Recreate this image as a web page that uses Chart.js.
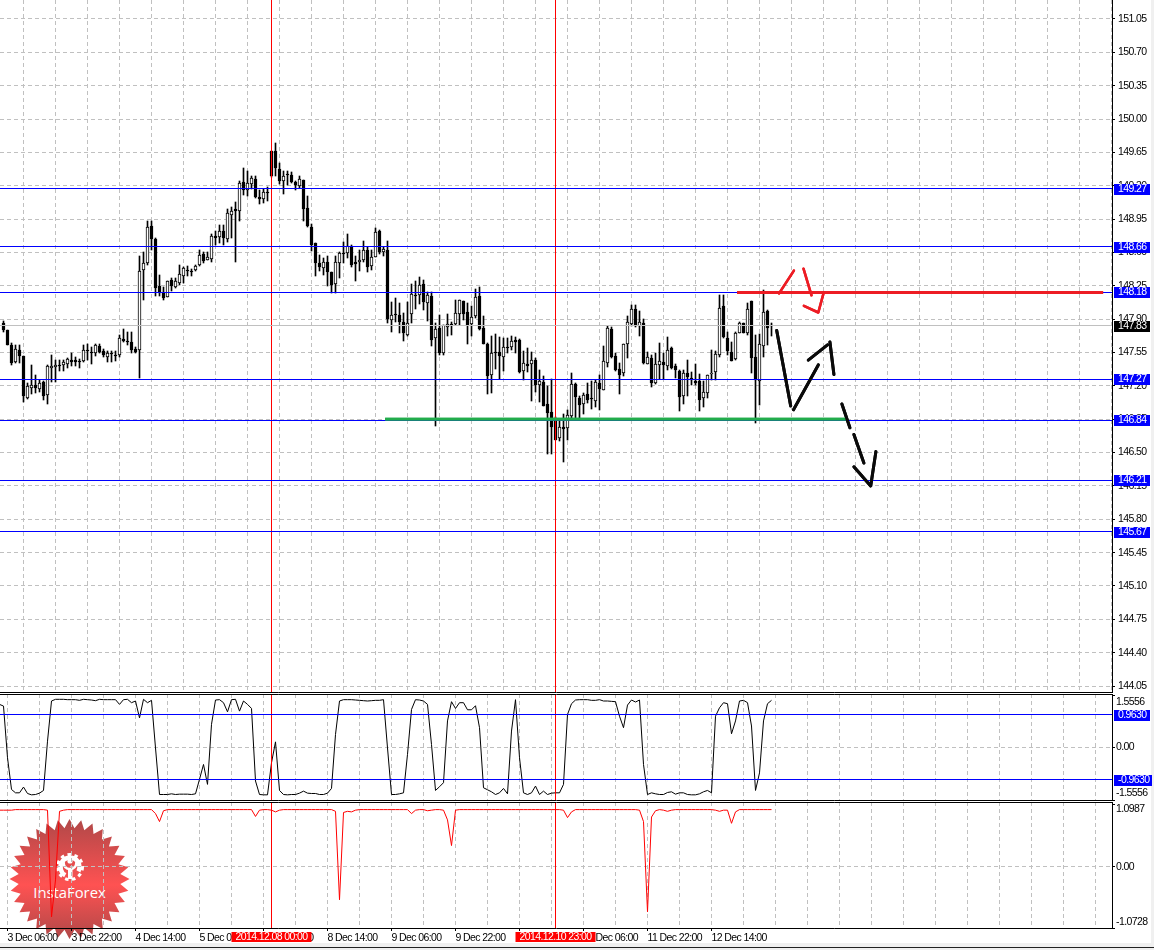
<!DOCTYPE html>
<html><head><meta charset="utf-8">
<style>
html,body{margin:0;padding:0;background:#fff;width:1154px;height:950px;overflow:hidden}
canvas{position:absolute;left:0}
#logo{position:absolute;left:0;top:810px}
.band{position:absolute;background:#f0f0f0}
</style>
<script src="https://cdn.jsdelivr.net/npm/chart.js@4"></script>
</head><body>
<div class="band" style="left:1151px;top:0;width:3px;height:950px"></div>
<div class="band" style="left:0;top:943px;width:1154px;height:7px"></div>
<div style="position:absolute;left:0;top:947px;width:1154px;height:1px;background:#222"></div>
<svg id="logo" width="140" height="140" viewBox="0 0 140 140">
<defs><linearGradient id="lg" x1="0" y1="0" x2="0" y2="1">
<stop offset="0" stop-color="#b04848"/><stop offset=".55" stop-color="#ff5252"/><stop offset="1" stop-color="#b04848"/></linearGradient></defs>
<polygon id="star" fill="url(#lg)"/>
<circle cx="70" cy="57" r="9.5" fill="none" stroke="#fff" stroke-width="4.5" stroke-dasharray="44 16" transform="rotate(120 70 57)"/>
<circle cx="70" cy="57" r="12.5" fill="none" stroke="#fff" stroke-width="3" stroke-dasharray="3.5 3.5"/>
<rect x="68" y="58" width="4.5" height="11" fill="#fff"/>
<path d="M63.5 52 Q64 59 70 59 Q76 59 76.5 52" fill="none" stroke="#fff" stroke-width="2.5"/>
<circle cx="70" cy="51" r="2.6" fill="#fff"/>
<text x="69.5" y="88" text-anchor="middle" fill="#fff" font-family="Open Sans" font-size="14.8" style="font-weight:400">InstaForex</text>
</svg>
<canvas id="c1" width="1154" height="693" style="top:0"></canvas>
<canvas id="c2" width="1154" height="108" style="top:694px"></canvas>
<canvas id="c3" width="1154" height="148" style="top:802px"></canvas>
<script>
const openP=[147.86,147.79,147.63,147.45,147.58,147.51,147.07,147.18,147.21,147.17,
147.24,147.10,147.39,147.40,147.41,147.42,147.43,147.47,147.47,147.46,
147.46,147.57,147.56,147.55,147.62,147.57,147.50,147.53,147.52,147.52,
147.69,147.67,147.66,147.59,147.58,148.42,148.49,148.88,148.74,148.25,
148.18,148.13,148.31,148.24,148.28,148.35,148.42,148.41,148.42,148.47,
148.58,148.52,148.53,148.77,148.76,148.82,148.74,148.99,149.06,149.04,
149.34,149.26,149.32,149.37,149.18,149.16,149.23,149.66,149.67,149.48,
149.35,149.42,149.41,149.34,149.30,149.36,149.07,148.87,148.70,148.49,
148.44,148.50,148.39,148.27,148.49,148.58,148.59,148.66,148.50,148.50,
148.52,148.63,148.46,148.55,148.82,148.60,148.63,147.89,147.95,147.94,
147.87,147.73,147.95,148.15,148.15,148.27,148.07,148.14,147.70,147.81,
147.55,147.82,147.84,147.85,147.95,148.09,147.97,147.85,147.93,148.14,
147.81,147.64,147.31,147.55,147.56,147.50,147.60,147.61,147.68,147.68,
147.36,147.43,147.43,147.47,147.21,147.24,147.01,146.93,146.84,146.65,
146.77,146.76,146.88,147.22,147.07,147.01,147.11,147.07,147.04,147.23,
147.16,147.44,147.80,147.51,147.38,147.33,147.64,147.85,148.01,147.83,
147.86,147.43,147.49,147.23,147.42,147.45,147.41,147.60,147.41,147.36,
147.09,147.33,147.28,147.25,147.25,147.07,147.12,147.32,147.35,147.52,
148.04,147.70,147.56,147.48,147.76,147.86,147.75,148.09,147.50,147.25,
147.62,147.99,147.83];
const highP=[147.88,147.79,147.65,147.63,147.63,147.51,147.23,147.42,147.31,147.26,
147.25,147.42,147.52,147.47,147.47,147.47,147.49,147.55,147.50,147.48,
147.63,147.64,147.61,147.64,147.64,147.59,147.57,147.57,147.57,147.73,
147.80,147.77,147.77,147.61,148.56,148.60,148.93,148.93,148.75,148.36,
148.24,148.30,148.33,148.33,148.47,148.45,148.46,148.43,148.47,148.63,
148.60,148.61,148.79,148.82,148.89,148.89,149.06,149.08,149.13,149.35,
149.49,149.45,149.40,149.40,149.26,149.27,149.29,149.66,149.75,149.54,
149.45,149.45,149.44,149.35,149.40,149.36,149.19,148.90,148.70,148.57,
148.54,148.56,148.40,148.56,148.61,148.71,148.79,148.68,148.56,148.63,
148.72,148.66,148.63,148.86,148.84,148.66,148.72,148.08,148.12,148.07,
147.96,148.08,148.27,148.30,148.34,148.31,148.19,148.19,147.86,147.94,
147.84,147.95,147.87,148.10,148.10,148.09,148.07,148.04,148.22,148.24,
147.93,147.65,147.72,147.74,147.71,147.70,147.70,147.72,147.71,147.69,
147.57,147.60,147.56,147.49,147.37,147.30,147.20,147.27,146.87,146.84,
146.90,146.95,147.33,147.23,147.09,147.13,147.23,147.25,147.26,147.31,
147.62,147.83,147.82,147.55,147.44,147.64,147.93,148.05,148.05,147.99,
147.90,147.56,147.52,147.54,147.65,147.55,147.71,147.61,147.43,147.37,
147.37,147.47,147.35,147.43,147.32,147.25,147.31,147.58,147.57,148.15,
148.15,147.77,147.66,147.77,147.87,147.86,148.07,148.09,147.73,147.74,
148.21,148.00,147.86];
const lowP=[147.77,147.63,147.42,147.44,147.44,147.03,147.06,147.11,147.12,147.14,
147.05,147.01,147.24,147.24,147.36,147.36,147.39,147.41,147.41,147.39,
147.45,147.47,147.43,147.51,147.55,147.50,147.45,147.45,147.46,147.50,
147.66,147.63,147.55,147.55,147.28,148.10,148.47,148.63,148.14,148.14,
148.10,148.13,148.20,148.23,148.26,148.28,148.35,148.35,148.41,148.46,
148.49,148.52,148.50,148.68,148.70,148.68,148.71,148.75,148.50,148.93,
149.20,149.19,149.27,149.17,149.11,149.12,149.14,149.39,149.40,149.32,
149.21,149.31,149.33,149.26,149.28,148.93,148.87,148.62,148.35,148.41,
148.36,148.25,148.17,148.17,148.33,148.49,148.54,148.45,148.30,148.41,
148.50,148.40,148.42,148.55,148.58,148.56,147.86,147.77,147.87,147.75,
147.67,147.72,147.86,148.01,148.06,148.00,147.88,147.62,146.78,147.52,
147.52,147.72,147.73,147.84,147.84,147.89,147.64,147.72,147.91,147.79,
147.64,147.11,147.13,147.38,147.27,147.36,147.54,147.58,147.54,147.33,
147.26,147.35,147.04,147.14,147.03,146.99,146.48,146.49,146.63,146.62,
146.40,146.63,146.84,146.84,146.85,146.90,147.02,146.96,146.98,146.95,
147.16,147.40,147.49,147.36,147.11,147.30,147.49,147.83,147.82,147.72,
147.43,147.43,147.19,147.22,147.27,147.27,147.37,147.38,147.28,146.94,
147.01,147.09,147.21,147.21,146.94,146.98,147.07,147.26,147.26,147.50,
147.70,147.52,147.46,147.47,147.75,147.75,147.73,147.34,146.81,147.00,
147.50,147.63,147.72];
const closeP=[147.79,147.63,147.44,147.59,147.51,147.09,147.20,147.21,147.18,147.23,
147.09,147.41,147.41,147.42,147.41,147.45,147.48,147.45,147.45,147.45,
147.58,147.57,147.54,147.63,147.56,147.52,147.54,147.53,147.51,147.70,
147.67,147.66,147.58,147.56,148.41,148.49,148.87,148.74,148.23,148.17,
148.12,148.30,148.25,148.30,148.37,148.44,148.41,148.40,148.46,148.57,
148.51,148.55,148.77,148.75,148.83,148.75,149.01,149.04,149.04,149.33,
149.26,149.33,149.38,149.18,149.16,149.23,149.22,149.40,149.49,149.35,
149.40,149.41,149.34,149.31,149.37,149.06,148.88,148.68,148.49,148.45,
148.50,148.40,148.26,148.50,148.59,148.58,148.67,148.47,148.48,148.52,
148.63,148.45,148.55,148.81,148.60,148.64,147.90,147.94,147.94,147.87,
147.75,147.86,148.16,148.14,148.26,148.08,148.15,147.68,147.80,147.55,
147.84,147.85,147.84,147.96,148.10,147.95,147.84,147.92,148.13,147.80,
147.64,147.30,147.55,147.54,147.51,147.61,147.60,147.67,147.66,147.35,
147.44,147.41,147.47,147.21,147.25,146.99,146.92,146.77,146.63,146.77,
146.75,146.89,147.22,147.08,147.00,147.10,147.05,147.06,147.24,147.17,
147.46,147.81,147.50,147.37,147.31,147.64,147.87,148.01,147.83,147.87,
147.44,147.50,147.23,147.43,147.46,147.42,147.58,147.39,147.37,147.08,
147.34,147.29,147.26,147.23,147.05,147.14,147.31,147.34,147.53,148.02,
147.71,147.57,147.46,147.75,147.86,147.75,148.01,147.49,147.26,147.64,
147.98,147.81,147.83];
const oscValues=[1.22,-.31,-1.25,-1.35,-1.35,-1.18,-1.37,-1.41,-1.40,-1.36,
-1.28,.18,1.37,1.42,1.42,1.42,1.41,1.41,1.41,1.39,
1.42,1.41,1.40,1.38,1.42,1.41,1.41,1.41,1.41,1.27,
1.41,1.42,1.32,1.37,.87,1.42,1.32,1.39,-.02,-1.40,
-1.40,-1.40,-1.38,-1.40,-1.39,-1.39,-1.39,-1.40,-1.38,-.95,
-.51,-1.10,.68,1.40,1.41,1.32,1.05,1.41,1.42,1.07,
1.37,1.27,1.15,-1.00,-1.40,-1.41,-1.41,-.46,.16,-1.28,
-1.40,-1.41,-1.40,-1.40,-1.36,-1.30,-1.36,-1.37,-1.37,-1.40,
-1.40,-1.36,-1.22,.38,1.37,1.41,1.41,1.41,1.40,1.39,
1.38,1.37,1.38,1.39,1.39,1.41,-.02,-1.40,-1.40,-1.38,
-1.35,-.21,1.12,1.41,1.40,1.37,1.27,.08,-1.28,-1.17,
-1.05,.78,1.35,1.15,1.32,1.32,1.11,1.11,1.23,.58,
-1.20,-1.26,-1.32,-1.40,-1.35,-1.22,-1.38,.48,1.41,-.31,
-1.35,-1.40,-1.35,-1.15,-1.40,-1.30,-1.40,-1.36,-1.35,-1.35,
-1.10,.97,1.29,1.40,1.41,1.41,1.41,1.39,1.39,1.41,
1.37,1.37,1.36,1.35,.92,.58,1.25,1.40,1.34,1.40,
-.51,-1.40,-1.35,-1.38,-1.40,-1.40,-1.34,-1.32,-1.39,-1.35,
-1.35,-1.40,-1.41,-1.41,-1.38,-1.32,-1.28,-1.35,.92,1.17,
1.32,1.29,.40,.78,1.37,1.39,1.32,.63,-1.28,-.76,
.78,1.29,1.39];
const volValues=[.99,.99,.99,1,1,1,1,1,1,1,
1,.99,-.88,-.23,.97,.99,1,1,1,1,
1,1,1,1,1,1,1,1,1,1,
1,1,1,1,1,1,1,1,.93,.79,
.98,1,1,1,1,1,1,1,1,1,
1,1,1,1,1,1,1,1,1,1,
1,1,1,.88,.99,1,1,.99,.96,.99,
1,1,1,1,1,1,1,1,1,1,
1,1,1,.97,-.58,.95,.97,.96,.99,1,
1,1,1,1,1,1,1,1,1,1,
1,1,.93,.99,1,1,.98,.99,1,1,
.99,.82,.37,.99,1,1,1,1,1,1,
1,1,1,1,1,1,1,1,1,1,
1,1,1,1,1,1,1,1,1,1,
.99,.86,.96,1,1,1,1,1,1,1,
1,1,1,1,1,1,1,1,1,.99,
.79,-.79,.87,.98,1,.99,.97,.99,1,1,
1,1,1,1,1,1,1,1,.99,.97,
.99,.99,.76,.96,1,1,1,1,1,1,
1,1,1];
const oscBefore=1.27, volBefore=.99;
const priceTicks=[151.05,150.70,150.35,150.00,149.65,149.30,148.95,148.60,148.25,147.90,147.55,147.20,146.85,146.50,146.15,145.80,145.45,145.10,144.75,144.40,144.05];
const blueLevels=[149.27,148.66,148.18,147.27,146.84,146.21,145.67];
const lastPrice=147.83;
const oscLevels=[0.963,-0.963];
const oscBounds=[1.5556,-1.5556];
const volBounds=[1.0987,-1.0728];
const gridBars=[1,9,17,25,33,41,49,57,65,73,81,89,97,105,113,121,129,137,145,153,161,169,177,185,193,201,209,217,225,233,241,249,257,265,273];
const timeTickBars=[1,17,33,49,65,81,97,113,129,145,161,177];
const timeTickLabels=["3 Dec 06:00","3 Dec 22:00","4 Dec 14:00","5 Dec 06:00","5 Dec 22:00","8 Dec 14:00","9 Dec 06:00","9 Dec 22:00","10 Dec 14:00","11 Dec 06:00","11 Dec 22:00","12 Dec 14:00"];
const cursorBars=[67,138];
const cursorLabels=["2014.12.08 00:00","2014.12.10 23:00"];
const greenLine=[[95.4,146.85],[211.1,146.85]];
const redLine=[[183.4,148.18],[274.9,148.18]];
const redStrokes=[[[193.9,148.17],[197.6,148.41]],[[200.0,148.43],[202.0,148.15]],[[200.1,148.04],[203.7,147.97],[205.0,148.17]]];
const blackStrokes=[[[193.3,147.78],[196.8,146.99]],[[197.5,146.95],[203.7,147.42]],[[201.2,147.47],[206.0,147.63]],[[206.6,147.66],[207.6,147.32]],[[209.6,147.01],[211.6,146.76]],[[212.6,146.69],[215.1,146.39]],[[212.6,146.35],[216.8,146.15],[218.1,146.51]]];

const BLUE='#0000ff',RED='#ff0000',GRID='#c0c0c0',FONT='"Liberation Sans"',SPACING='-0.6px',TEXT=10.5;
const xMin=-0.875,xMax=277.125;
const bars=openP.map((_,i)=>i);
const pts=a=>a.map(p=>({x:p[0],y:p[1]}));
const line=(data,color,width,cap)=>({type:'line',data,borderColor:color,borderWidth:width,pointRadius:0,tension:0,borderCapStyle:cap||'butt',borderJoinStyle:'round',fill:false,parsing:{xAxisKey:'x',yAxisKey:'y'}});
const stroke=(a,color,width,cap)=>Object.assign(line(pts(a),color,width,cap),{onTop:true});
const vline=(b,lo,hi)=>line([{x:b,y:lo},{x:b,y:hi}],RED,1);
const noPad=s=>{s.paddingTop=s.paddingBottom=s.paddingLeft=s.paddingRight=0;};

const decor={id:'decor',
 beforeDraw(c){c.ctx.letterSpacing=SPACING;},
 beforeDatasetsDraw(c){
  c.getSortedVisibleDatasetMetas().forEach(m=>{ if(m.type==='bar') m.data.forEach(el=>{el.y=Math.round(el.y);el.base=Math.round(el.base);}); });
 },
 afterDraw(c,_,o){
  const g=c.ctx,a=c.chartArea,ys=c.scales.y;
  c.data.datasets.forEach((d,i)=>{ if(d.onTop) c.getDatasetMeta(i).controller.draw(); });
  g.save();g.letterSpacing=SPACING;g.strokeStyle='#000';g.lineWidth=1;g.beginPath();
  if(o.top){g.moveTo(0,a.top+.5);g.lineTo(1113,a.top+.5);}
  g.moveTo(0,a.bottom+.5);g.lineTo(1113,a.bottom+.5);
  g.moveTo(1112.5,0);g.lineTo(1112.5,a.bottom+1);g.stroke();
  g.font=TEXT+'px '+FONT;g.textBaseline='middle';g.textAlign='left';
  (o.plain||[]).forEach(l=>{g.fillStyle='#000';g.fillText(l.t,1116,ys.getPixelForValue(l.v)+l.dy);
    g.fillRect(1112,Math.round(ys.getPixelForValue(l.v)),3,1);});
  (o.boxes||[]).forEach(l=>{const y=Math.round(ys.getPixelForValue(l.v));
    g.fillStyle=l.bg;g.fillRect(1114,y-5,l.w||36,11);g.fillStyle='#fff';g.fillText(l.t,1118,y+.5);});
  (o.cursors||[]).forEach(l=>{const x=c.scales.x.getPixelForValue(l.b);
    g.fillStyle=RED;g.fillRect(x-40,a.bottom+4,80,10);g.fillStyle='#fff';g.textAlign='center';g.fillText(l.t,x,a.bottom+9.5);g.textAlign='left';});
  g.restore();
}};

function panel(id,datasets,cfg){
  return new Chart(document.getElementById(id),{
    data:{datasets},
    plugins:[decor],
    options:{
      responsive:false,animation:false,devicePixelRatio:1,events:[],
      layout:{padding:cfg.padding},
      plugins:{legend:{display:false},tooltip:{enabled:false},decor:cfg.decor},
      scales:{
        x:{type:'linear',min:xMin,max:xMax,offset:false,
          afterBuildTicks:s=>{s.ticks=gridBars.map(v=>({value:v}));},
          afterFit:s=>{s.height=cfg.xHeight;noPad(s);},
          border:{display:false,dash:[4,3]},
          grid:{color:GRID,lineWidth:1,drawTicks:!!cfg.xHeight,tickLength:3,tickBorderDash:[],
            tickColor:c=>timeTickBars.includes(c.tick&&c.tick.value)?'#000':'rgba(0,0,0,0)'},
          ticks:{display:!!cfg.xHeight,autoSkip:false,maxRotation:0,minRotation:0,align:'start',padding:1,color:'#000',font:{family:FONT,size:TEXT},
            callback:v=>{const k=timeTickBars.indexOf(v);return k<0?'':timeTickLabels[k];}}
        },
        y:{type:'linear',position:'right',min:cfg.min,max:cfg.max,
          afterBuildTicks:s=>{s.ticks=cfg.ticks.map(v=>({value:v}));},
          afterFit:s=>{s.width=42;noPad(s);},
          border:{display:false,dash:[4,3]},
          grid:{color:GRID,lineWidth:1,drawTicks:true,tickLength:3,tickBorderDash:[],tickColor:'#000'},
          ticks:{autoSkip:false,padding:cfg.tickPad,color:'#000',font:{family:FONT,size:TEXT},callback:v=>v.toFixed(2)}
        },
        levels:{type:'linear',position:'right',min:cfg.min,max:cfg.max,
          afterBuildTicks:s=>{s.ticks=cfg.levels.map(l=>({value:l.v}));},
          afterFit:s=>{s.width=0;noPad(s);},
          border:{display:false},
          grid:{z:1,lineWidth:1,drawTicks:false,color:c=>{const l=cfg.levels.find(k=>k.v===(c.tick&&c.tick.value));return l?l.color:'rgba(0,0,0,0)';}},
          ticks:{display:false}
        }
      }
    }
  });
}

const candleBody={type:'bar',grouped:false,barThickness:3,minBarLength:1,borderWidth:1,borderSkipped:false,borderColor:'#000',
  backgroundColor:c=>closeP[c.dataIndex]>openP[c.dataIndex]?'#fff':'#000',
  data:bars.map(i=>({x:i,y:[openP[i],closeP[i]]}))};
const candleWick={type:'bar',grouped:false,barThickness:1,minBarLength:1,borderWidth:0,backgroundColor:'#000',
  data:bars.map(i=>({x:i,y:[lowP[i],highP[i]]}))};

const yTop=151.05+19/95.29, yBot=yTop-692/95.29;
panel('c1',[
  stroke(greenLine,'#22ac4c',3),
  stroke(redLine,'#ed1c24',3),
  ...redStrokes.map(s=>stroke(s,'#ed1c24',2.5,'round')),
  ...blackStrokes.map(s=>stroke(s,'#0a0a0a',3,'round')),
  ...cursorBars.map(b=>vline(b,yBot,yTop)),
  candleBody,candleWick
],{padding:{bottom:1},xHeight:0,min:yBot,max:yTop,ticks:priceTicks,tickPad:3,
  levels:[...blueLevels.map(v=>({v,color:BLUE})),{v:lastPrice,color:GRID}],
  decor:{top:false,boxes:[...blueLevels.map(v=>({v,t:v.toFixed(2),bg:BLUE})),{v:lastPrice,t:lastPrice.toFixed(2),bg:'#000'}]}});

const oscMax=53.25/33.75, oscMin=-52.75/33.75;
panel('c2',[
  ...cursorBars.map(b=>vline(b,oscMin,oscMax)),
  line([{x:-1,y:oscBefore},...bars.map(i=>({x:i,y:oscValues[i]}))],'#000',1)
],{padding:{bottom:2},xHeight:0,min:oscMin,max:oscMax,ticks:[0],tickPad:1,
  levels:oscLevels.map(v=>({v,color:BLUE})),
  decor:{top:true,
    plain:[{v:oscBounds[0],t:oscBounds[0].toFixed(4),dy:7},{v:oscBounds[1],t:oscBounds[1].toFixed(4),dy:-7}],
    boxes:oscLevels.map(v=>({v,t:v.toFixed(4),bg:BLUE,w:v<0?38:36}))}});

const volMax=64.7/57.1, volMin=-61.3/57.1;
panel('c3',[
  ...cursorBars.map(b=>vline(b,volMin,volMax)),
  line([{x:-1,y:volBefore},...bars.map(i=>({x:i,y:volValues[i]}))],RED,1)
],{padding:{bottom:0},xHeight:22,min:volMin,max:volMax,ticks:[0],tickPad:1,levels:[],
  decor:{top:true,
    plain:[{v:volBounds[0],t:volBounds[0].toFixed(4),dy:5},{v:volBounds[1],t:volBounds[1].toFixed(4),dy:-6}],
    cursors:cursorBars.map((b,k)=>({b,t:cursorLabels[k]}))}});

const teeth=32,rOut=60,rIn=51,cx=69.5,cy=69;
const star=[];
for(let k=0;k<teeth*2;k++){const r=k%2?rIn:rOut,t=Math.PI*k/teeth;star.push((cx+r*Math.sin(t)).toFixed(1)+','+(cy-r*Math.cos(t)).toFixed(1));}
document.getElementById('star').setAttribute('points',star.join(' '));
</script>
</body></html>
